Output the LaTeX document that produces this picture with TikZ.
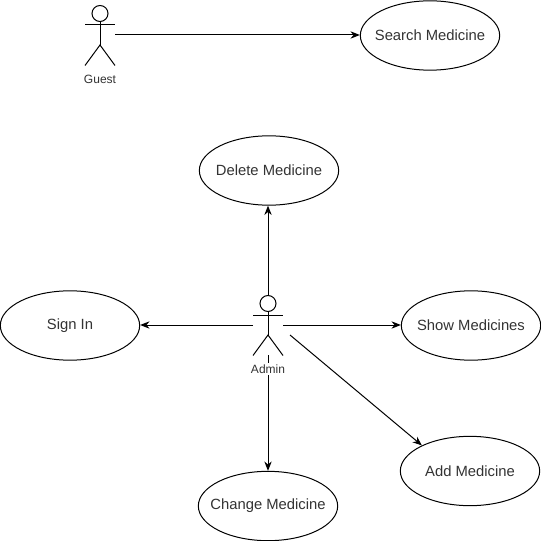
\documentclass[tikz,border=0pt]{standalone}
\usepackage{fontspec}
\setmainfont{Liberation Sans}
\usetikzlibrary{arrows.meta,shapes.geometric}
\tikzset{x=0.75pt,y=-0.75pt,
 uc/.style={draw=black,fill=white,text=black!80,ellipse,line width=0.75pt,inner sep=-12pt,minimum width=104.5pt,minimum height=52pt,font=\fontsize{11.1pt}{13pt}\selectfont},
 lbl/.style={text=black!80,font=\fontsize{9pt}{10pt}\selectfont,inner sep=0pt},
 link/.style={draw=black,line width=0.75pt,-{Stealth[length=7pt,width=5.5pt]}},
 fig/.style={draw=black,line width=0.75pt}}
\newcommand{\actor}[2]{%
 \draw[fig] (#1,#2) circle[radius=8];
 \draw[fig] (#1,#2+8) -- (#1,#2+31.5);
 \draw[fig] (#1-15,#2+11.5) -- (#1+15,#2+11.5);
 \draw[fig] (#1-15,#2+52) -- (#1,#2+31.5) -- (#1+15,#2+52);}
\begin{document}
\begin{tikzpicture}
\useasboundingbox (0,0) rectangle (541,541);
\fill[white] (0,0) rectangle (541,541);
\actor{100}{13.5}
\actor{268}{303.5}
\coordinate (gr) at (115,35);
\coordinate (at) at (268,295);
\coordinate (al) at (253,325);
\coordinate (ar) at (283,325);
\coordinate (ab) at (268,355);
\coordinate (abr) at (290,335);
\node[uc] (search) at (430,35.5) {Search Medicine};
\node[uc] (delete) at (269,170.5) {Delete Medicine};
\node[uc] (signin) at (70,325.5) {Sign In};
\node[uc] (show) at (471,325.5) {Show Medicines};
\node[uc] (add) at (470,471) {Add Medicine};
\node[uc] (change) at (268,506) {Change Medicine};
\draw[link] (gr) -- (gr -| search.west);
\draw[link] (at) -- (at |- delete.south);
\draw[link] (al) -- (al -| signin.east);
\draw[link] (ar) -- (ar -| show.west);
\draw[link] (ab) -- (ab |- change.north);
\draw[link] (abr) -- (add.152);
\node[lbl] (guest) at (100,79.5) {Guest};
\node[lbl,fill=white,inner ysep=1pt] (admin) at (268,369) {Admin};
\end{tikzpicture}
\end{document}
